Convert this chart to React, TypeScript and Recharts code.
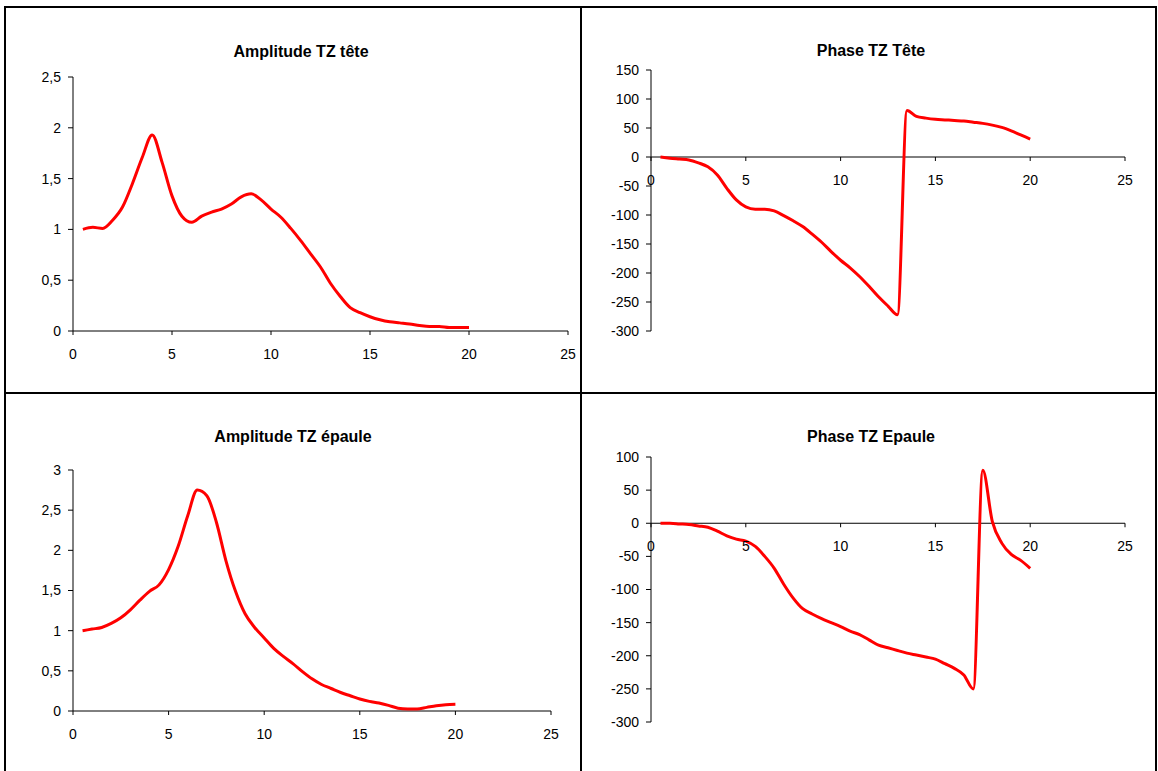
import { LineChart, Line, XAxis, YAxis, ReferenceLine } from 'recharts'

// frequency grid (Hz)
const FREQ = [
  0.5, 1, 1.5, 2, 2.5, 3, 3.5, 4, 4.5, 5, 5.5, 6, 6.5, 7, 7.5, 8, 8.5, 9, 9.5, 10,
  10.5, 11, 11.5, 12, 12.5, 13, 13.5, 14, 14.5, 15, 15.5, 16, 16.5, 17, 17.5, 18, 18.5, 19, 19.5, 20,
]

const AMP_TETE = [
  1.0, 1.02, 1.01, 1.09, 1.22, 1.45, 1.71, 1.93, 1.66, 1.33, 1.13, 1.07, 1.13, 1.17, 1.2, 1.25, 1.32, 1.35, 1.29, 1.2,
  1.12, 1.01, 0.89, 0.76, 0.63, 0.47, 0.34, 0.23, 0.18, 0.14, 0.11, 0.09, 0.08, 0.07, 0.055, 0.045, 0.045, 0.035, 0.035, 0.035,
]

const PHASE_TETE = [
  0, -2, -3.5, -5, -10, -17, -31, -54, -74, -86, -90, -90, -93, -101, -110, -120, -133, -147, -163, -178,
  -191, -206, -223, -241, -257, -272, 80, 70, 67, 65, 64, 63, 62, 60, 58, 55, 51, 45, 38, 31,
]

const AMP_EPAULE = [
  1.0, 1.02, 1.04, 1.09, 1.16, 1.26, 1.38, 1.49, 1.57, 1.76, 2.05, 2.43, 2.75, 2.68, 2.35, 1.87, 1.49, 1.21, 1.04, 0.91,
  0.78, 0.68, 0.59, 0.49, 0.4, 0.33, 0.28, 0.23, 0.19, 0.15, 0.12, 0.1, 0.07, 0.035, 0.025, 0.025, 0.045, 0.065, 0.078, 0.083,
]

const PHASE_EPAULE = [
  0, 0, -1, -2, -4, -6, -12, -19, -24, -27, -35, -50, -68, -92, -113, -129, -137, -144, -150, -156,
  -163, -168, -176, -184, -188, -192, -196, -199, -202, -205, -212, -219, -229, -250, 80, 3, -30, -47, -56, -68,
]

const X_TICKS = [0, 5, 10, 15, 20, 25]
const AMP_TICKS_TETE = [0, 0.5, 1, 1.5, 2, 2.5]
const AMP_TICKS_EPAULE = [0, 0.5, 1, 1.5, 2, 2.5, 3]
const PHASE_TICKS_TETE = [-300, -250, -200, -150, -100, -50, 0, 50, 100, 150]
const PHASE_TICKS_EPAULE = [-300, -250, -200, -150, -100, -50, 0, 50, 100]

const FONT = '"Liberation Sans", Arial, sans-serif'
const MT = 10
const YW = 50
const XH = 40

const comma = (v: number) => String(v).replace('.', ',')

interface PanelProps {
  title: string
  titleX: number
  titleY: number
  left: number
  top: number
  plotW: number
  plotH: number
  values: number[]
  yTicks: number[]
}

function Panel({ title, titleX, titleY, left, top, plotW, plotH, values, yTicks }: PanelProps) {
  const data = FREQ.map((f, i) => ({ f, v: values[i] }))
  const yMin = yTicks[0]
  const yMax = yTicks[yTicks.length - 1]
  const axisY = MT + (plotH * yMax) / (yMax - yMin)

  const XTick = (props: any) => {
    const { x, payload } = props
    return (
      <g>
        <line x1={x} x2={x} y1={axisY} y2={axisY + 4} stroke="#000" />
        <text x={x} y={axisY + 28} textAnchor="middle" fill="#000" fontSize={14} fontFamily={FONT}>
          {payload.value}
        </text>
      </g>
    )
  }

  return (
    <>
      <div
        style={{
          position: 'absolute',
          left: titleX,
          top: titleY,
          transform: 'translate(-50%, -50%)',
          fontFamily: FONT,
          fontWeight: 'bold',
          fontSize: 16,
          whiteSpace: 'nowrap',
        }}
      >
        {title}
      </div>
      <div style={{ position: 'absolute', left: left - YW, top: top - MT }}>
        <LineChart
          width={plotW + YW + 10}
          height={plotH + MT + XH}
          data={data}
          margin={{ top: MT, right: 10, bottom: 0, left: 0 }}
        >
          <XAxis
            type="number"
            dataKey="f"
            domain={[0, 25]}
            ticks={X_TICKS}
            interval={0}
            height={XH}
            axisLine={false}
            tickLine={false}
            tick={XTick}
          />
          <YAxis
            type="number"
            domain={[yMin, yMax]}
            ticks={yTicks}
            interval={0}
            width={YW}
            tickSize={5}
            tickMargin={7}
            tickFormatter={comma}
            axisLine={{ stroke: '#000' }}
            tickLine={{ stroke: '#000' }}
            tick={{ fill: '#000', fontSize: 14, fontFamily: FONT }}
          />
          <ReferenceLine y={0} stroke="#000" strokeWidth={1} />
          <Line
            type="monotone"
            dataKey="v"
            stroke="#FF0000"
            strokeWidth={3}
            dot={false}
            isAnimationActive={false}
          />
        </LineChart>
      </div>
    </>
  )
}

const rule = (s: any) => <div style={{ position: 'absolute', background: '#000', ...s }} />

export default function App() {
  return (
    <div
      style={{
        position: 'absolute',
        left: 0,
        top: 0,
        width: 1158,
        height: 771,
        overflow: 'hidden',
        background: '#fff',
      }}
    >
      {rule({ left: 4, top: 6, width: 1153, height: 2 })}
      {rule({ left: 4, top: 6, width: 2, height: 780 })}
      {rule({ left: 1155, top: 6, width: 2, height: 780 })}
      {rule({ left: 580, top: 6, width: 2, height: 780 })}
      {rule({ left: 4, top: 392, width: 1153, height: 2 })}

      <Panel title="Amplitude TZ tête" titleX={301} titleY={52} left={73} top={77} plotW={495} plotH={254}
        values={AMP_TETE} yTicks={AMP_TICKS_TETE} />
      <Panel title="Phase TZ Tête" titleX={871} titleY={51} left={651} top={70} plotW={474} plotH={261}
        values={PHASE_TETE} yTicks={PHASE_TICKS_TETE} />
      <Panel title="Amplitude TZ épaule" titleX={293} titleY={437} left={73} top={470} plotW={478} plotH={241}
        values={AMP_EPAULE} yTicks={AMP_TICKS_EPAULE} />
      <Panel title="Phase TZ Epaule" titleX={871} titleY={437} left={651} top={457} plotW={474} plotH={265}
        values={PHASE_EPAULE} yTicks={PHASE_TICKS_EPAULE} />
    </div>
  )
}
